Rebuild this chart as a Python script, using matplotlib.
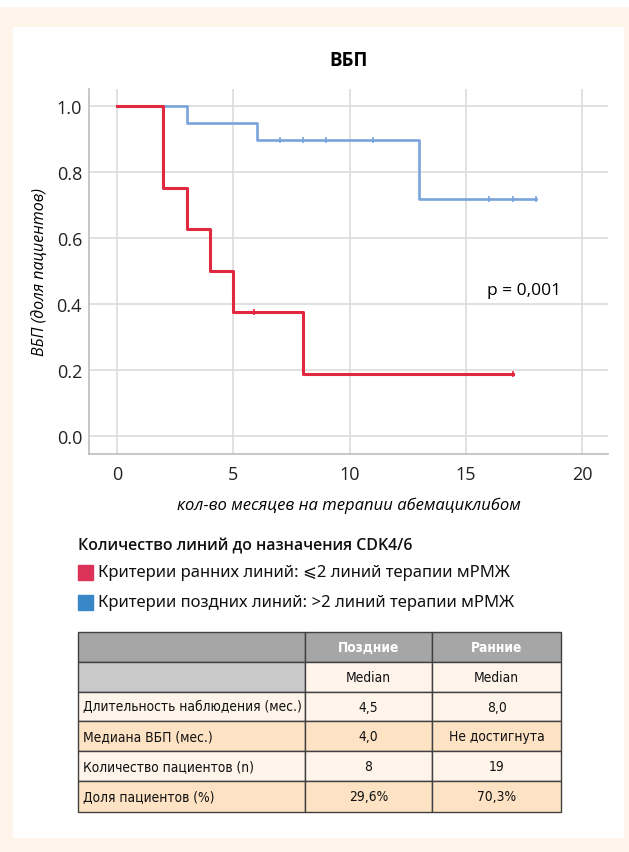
import matplotlib.pyplot as plt
from matplotlib.patches import Rectangle

# --- data ---
red_t = [0, 2, 3, 4, 5, 8, 17]
red_s = [1.0, 0.75, 0.625, 0.5, 0.375, 0.1875, 0.1875]
red_cens_t = [5.9, 17]
red_cens_s = [0.375, 0.1875]

blue_t = [0, 3, 6, 13, 18]
blue_s = [1.0, 0.947, 0.895, 0.716, 0.716]
blue_cens_t = [7, 8, 9, 11, 16, 17, 18]
blue_cens_s = [0.895, 0.895, 0.895, 0.895, 0.716, 0.716, 0.716]

x_ticks = [0, 5, 10, 15, 20]
y_ticks = [0.0, 0.2, 0.4, 0.6, 0.8, 1.0]

legend_title = 'Количество линий до назначения CDK4/6'
legend_labels = ['Критерии ранних линий: ⩽2 линий терапии мРМЖ',
                 'Критерии поздних линий: >2 линий терапии мРМЖ']
legend_colors = ['#dc325a', '#3a87c8']

col_headers = ['', 'Поздние', 'Ранние']
sub_headers = ['', 'Median', 'Median']
row_labels = ['Длительность наблюдения (мес.)', 'Медиана ВБП (мес.)',
              'Количество пациентов (n)', 'Доля пациентов (%)']
late_vals = ['4,5', '4,0', '8', '29,6%']
early_vals = ['8,0', 'Не достигнута', '19', '70,3%']

W, H = 629, 853
fig = plt.figure(figsize=(W / 100, H / 100), dpi=100)
fig.patch.set_facecolor('#fef4e9')

# background / layout layer in pixel coords
bg = fig.add_axes([0, 0, 1, 1], zorder=0)
bg.set_xlim(0, W)
bg.set_ylim(H, 0)
bg.axis('off')
bg.add_patch(Rectangle((0, 0), W, 7, color='white'))
bg.add_patch(Rectangle((13, 28), 610, 810, color='white'))

# --- KM chart ---
ax = fig.add_axes([89 / W, 1 - 455 / H, (608 - 89) / W, (455 - 90) / H], zorder=1)
ax.set_facecolor('none')
ax.step(blue_t, blue_s, where='post', color='#7aa3dc', lw=1.9, zorder=3)
ax.plot(blue_cens_t, blue_cens_s, ls='none', marker='|', ms=5, mew=1.2, color='#7aa3dc', zorder=3)
ax.step(red_t, red_s, where='post', color='#e2283e', lw=2.2, zorder=4)
ax.plot(red_cens_t, red_cens_s, ls='none', marker='|', ms=5, mew=1.2, color='#e2283e', zorder=4)

ax.set_xlim(-1.2, 21.1)
ax.set_ylim(-0.055, 1.05)
ax.set_xticks(x_ticks)
ax.set_yticks(y_ticks)
ax.set_yticklabels([f'{v:.1f}' for v in y_ticks])
ax.grid(True, color='#dcdcdc', lw=1.2)
ax.set_axisbelow(True)
ax.tick_params(length=0, labelsize=13, colors='#222222')
ax.tick_params(axis='y', pad=5)
ax.tick_params(axis='x', pad=8)
for lab in ax.get_xticklabels() + ax.get_yticklabels():
    lab.set_family('Open Sans')
for s in ['top', 'right']:
    ax.spines[s].set_visible(False)
for s in ['left', 'bottom']:
    ax.spines[s].set_color('#bdbdbd')
    ax.spines[s].set_linewidth(1.2)

ax.set_title('ВБП', fontsize=13.5, fontweight='bold', family='Open Sans', pad=17)
ax.set_xlabel('кол-во месяцев на терапии абемациклибом', fontsize=12,
              style='italic', family='Open Sans', labelpad=10)
ax.set_ylabel('ВБП (доля пациентов)', fontsize=11.5, style='italic',
              family='Open Sans', labelpad=6)
ax.text(15.9, 0.44, 'p = 0,001', fontsize=12.5, family='Open Sans', va='center')

# --- legend block ---
bg.text(78, 546, legend_title, fontsize=11.4, fontweight='semibold',
        family='Open Sans', va='center', color='#111111')
for i, (lab, c) in enumerate(zip(legend_labels, legend_colors)):
    y = 573 + i * 30
    bg.add_patch(Rectangle((78, y - 7), 15, 15, color=c))
    bg.text(98, y, lab, fontsize=12, family=['Noto Sans', 'DejaVu Sans'],
            va='center', color='#111111')

# --- table ---
col_x = [78, 305, 432, 561]
row_y = [633, 663, 693, 722, 752, 782, 813]
light = '#fef4ea'
dark = '#fde2c4'
fills = [
    ['#a6a6a6', '#a6a6a6', '#a6a6a6'],
    ['#c9c9c9', light, light],
    [light, light, light],
    [dark, dark, dark],
    [light, light, light],
    [dark, dark, dark],
]
rows = [col_headers, sub_headers] + [[r, a, b] for r, a, b in zip(row_labels, late_vals, early_vals)]
tfont = dict(family='DejaVu Sans', fontstretch='condensed', fontsize=9.9)
for r in range(len(rows)):
    y0, y1 = row_y[r], row_y[r + 1]
    for c in range(3):
        x0, x1 = col_x[c], col_x[c + 1]
        bg.add_patch(Rectangle((x0, y0), x1 - x0, y1 - y0, facecolor=fills[r][c],
                               edgecolor='#404040', lw=1.0))
        txt = rows[r][c]
        if not txt:
            continue
        if r == 0:
            bg.text((x0 + x1) / 2, (y0 + y1) / 2, txt, ha='center', va='center',
                    fontweight='bold', color='white', **tfont)
        elif c == 0:
            bg.text(x0 + 5, (y0 + y1) / 2, txt, ha='left', va='center',
                    color='#111111', **tfont)
        else:
            bg.text((x0 + x1) / 2, (y0 + y1) / 2, txt, ha='center', va='center',
                    color='#111111', **tfont)

fig.savefig('out.png', dpi=100)
